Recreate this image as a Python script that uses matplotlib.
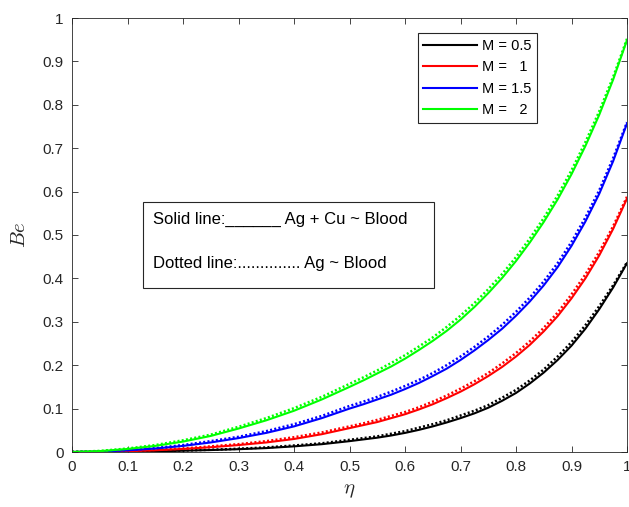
import matplotlib
matplotlib.use("Agg")
import matplotlib.pyplot as plt
from matplotlib.patches import Rectangle

plt.rcParams['font.family'] = ['Liberation Sans', 'DejaVu Sans']
plt.rcParams['mathtext.fontset'] = 'cm'

eta = [0.00, 0.05, 0.10, 0.15, 0.20, 0.25, 0.30, 0.35, 0.40, 0.45, 0.50,
       0.525, 0.55, 0.575, 0.60, 0.625, 0.65, 0.675, 0.70, 0.725, 0.75,
       0.775, 0.80, 0.825, 0.85, 0.875, 0.90, 0.925, 0.95, 0.975, 1.00]

# Solid lines: Ag + Cu ~ Blood
be_m05_solid = [0, 0.0002, 0.0007, 0.0015, 0.003, 0.0045, 0.0065, 0.009, 0.013, 0.018, 0.025,
                0.029, 0.033, 0.038, 0.044, 0.051, 0.059, 0.068, 0.078, 0.089, 0.102,
                0.118, 0.136, 0.158, 0.183, 0.212, 0.245, 0.284, 0.329, 0.379, 0.435]
be_m1_solid = [0, 0.0005, 0.002, 0.004, 0.007, 0.011, 0.016, 0.022, 0.030, 0.041, 0.055,
               0.062, 0.069, 0.078, 0.087, 0.098, 0.110, 0.124, 0.139, 0.156, 0.175,
               0.196, 0.220, 0.247, 0.278, 0.313, 0.354, 0.400, 0.453, 0.514, 0.584]
be_m15_solid = [0, 0.001, 0.004, 0.008, 0.014, 0.022, 0.032, 0.044, 0.059, 0.078, 0.100,
                0.110, 0.121, 0.132, 0.145, 0.159, 0.175, 0.192, 0.212, 0.234, 0.258,
                0.284, 0.314, 0.347, 0.384, 0.426, 0.475, 0.531, 0.595, 0.670, 0.757]
be_m2_solid = [0, 0.002, 0.007, 0.014, 0.024, 0.037, 0.054, 0.073, 0.095, 0.121, 0.150,
               0.165, 0.181, 0.197, 0.215, 0.235, 0.256, 0.279, 0.305, 0.334, 0.366,
               0.401, 0.440, 0.483, 0.530, 0.582, 0.640, 0.705, 0.777, 0.858, 0.949]

# Dotted lines: Ag ~ Blood
be_m05_dot = [0, 0.0003, 0.0009, 0.0018, 0.0035, 0.0052, 0.0075, 0.0105, 0.015, 0.020, 0.028,
              0.032, 0.036, 0.042, 0.048, 0.056, 0.064, 0.073, 0.084, 0.095, 0.108,
              0.125, 0.143, 0.165, 0.190, 0.220, 0.253, 0.292, 0.336, 0.384, 0.437]
be_m1_dot = [0, 0.0007, 0.0025, 0.005, 0.008, 0.013, 0.018, 0.025, 0.034, 0.045, 0.059,
             0.066, 0.074, 0.083, 0.092, 0.103, 0.116, 0.130, 0.146, 0.163, 0.182,
             0.204, 0.228, 0.255, 0.286, 0.321, 0.363, 0.409, 0.461, 0.520, 0.588]
be_m15_dot = [0, 0.0013, 0.0045, 0.009, 0.016, 0.025, 0.035, 0.048, 0.064, 0.083, 0.106,
              0.116, 0.127, 0.139, 0.152, 0.166, 0.182, 0.200, 0.220, 0.242, 0.266,
              0.293, 0.323, 0.356, 0.393, 0.435, 0.484, 0.540, 0.603, 0.677, 0.760]
be_m2_dot = [0, 0.0025, 0.008, 0.016, 0.027, 0.040, 0.058, 0.078, 0.101, 0.127, 0.157,
             0.172, 0.188, 0.205, 0.223, 0.243, 0.264, 0.288, 0.314, 0.343, 0.375,
             0.410, 0.449, 0.492, 0.539, 0.591, 0.649, 0.714, 0.785, 0.864, 0.952]

labels = ['M = 0.5', 'M =   1', 'M = 1.5', 'M =   2']
colors = ['#000000', '#ff0000', '#0000ff', '#00ff00']
solid = [be_m05_solid, be_m1_solid, be_m15_solid, be_m2_solid]
dotted = [be_m05_dot, be_m1_dot, be_m15_dot, be_m2_dot]

xticks = [0, 0.1, 0.2, 0.3, 0.4, 0.5, 0.6, 0.7, 0.8, 0.9, 1]
xticklabels = ['0', '0.1', '0.2', '0.3', '0.4', '0.5', '0.6', '0.7', '0.8', '0.9', '1']
yticks = [0, 0.1, 0.2, 0.3, 0.4, 0.5, 0.6, 0.7, 0.8, 0.9, 1]
yticklabels = ['0', '0.1', '0.2', '0.3', '0.4', '0.5', '0.6', '0.7', '0.8', '0.9', '1']

fig = plt.figure(figsize=(6.29, 5.07), dpi=100)
ax = fig.add_axes([72/629, 1-452/507, 555/629, 434/507])

handles = []
for s, d, c, lab in zip(solid, dotted, colors, labels):
    h, = ax.plot(eta, s, color=c, lw=1.5, label=lab)
    ax.plot(eta, d, color=c, lw=1.8, linestyle=(0, (0.8, 0.9)))
    handles.append(h)

ax.set_xlim(0, 1)
ax.set_ylim(0, 1)
ax.set_xticks(xticks)
ax.set_xticklabels(xticklabels)
ax.set_yticks(yticks)
ax.set_yticklabels(yticklabels)
ax.tick_params(direction='in', length=4, width=0.6, colors='#262626',
               labelsize=11, top=True, right=True, pad=6)
for sp in ax.spines.values():
    sp.set_color('#262626')
    sp.set_linewidth(0.6)

ax.set_xlabel(r'$\eta$', fontsize=15, color='#262626', labelpad=5)
ax.set_ylabel(r'$Be$', fontsize=15, color='#262626', labelpad=10)

leg = ax.legend(handles=handles, loc='upper right', bbox_to_anchor=(0.838, 0.965),
                borderaxespad=0, fancybox=False, framealpha=1, edgecolor='#262626',
                fontsize=10.5, handlelength=3.7, handletextpad=0.3,
                labelspacing=0.5, borderpad=0.4)
leg.get_frame().set_linewidth(0.8)

ax.add_patch(Rectangle((0.128, 0.378), 0.524, 0.198, transform=ax.transAxes,
                       fill=True, facecolor='white', edgecolor='#262626', lw=0.8, zorder=5))
ax.text(0.146, 0.537, 'Solid line:______ Ag + Cu ~ Blood', transform=ax.transAxes,
        fontsize=12, va='center', ha='left', zorder=6)
ax.text(0.146, 0.435, 'Dotted line:.............. Ag ~ Blood', transform=ax.transAxes,
        fontsize=12, va='center', ha='left', zorder=6)

fig.savefig('out.png', dpi=100)
